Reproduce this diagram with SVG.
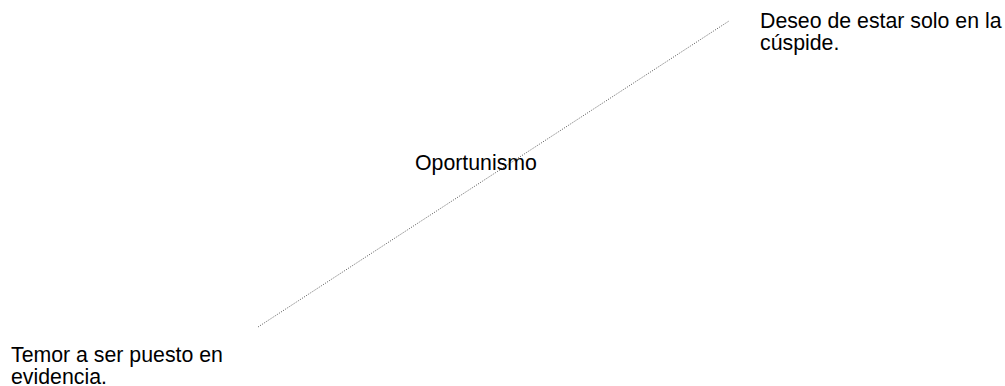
<svg xmlns="http://www.w3.org/2000/svg" width="1005" height="386" viewBox="0 0 1005 386">
<style>
text{font-family:"Liberation Sans",Arial,sans-serif;font-size:21.3px;fill:#000}
.conn{stroke:#555;stroke-width:1;stroke-dasharray:1 1.5;fill:none}
</style>
<rect width="1005" height="386" fill="#fff"/>
<g id="connectors">
<line class="conn" x1="258" y1="327" x2="729" y2="21"/>
</g>
<g id="node-top"><text x="760" y="27.5">Deseo de estar solo en la</text><text x="760" y="50">cúspide.</text></g>
<g id="node-center"><text x="415" y="169.5">Oportunismo</text></g>
<g id="node-bottom"><text x="11" y="361.5">Temor a ser puesto en</text><text x="11" y="383.5">evidencia.</text></g>
</svg>
